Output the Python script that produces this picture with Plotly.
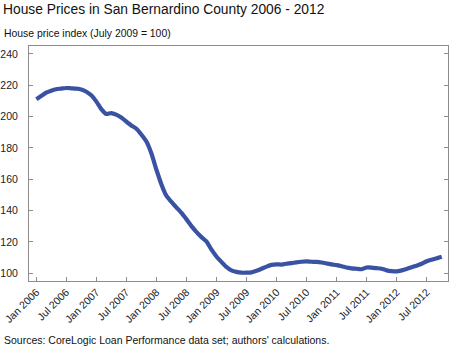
import plotly.graph_objects as go
import pandas as pd

months = pd.date_range("2006-01-01", periods=82, freq="MS")
hpi = [211.0, 213.2, 215.2, 216.5, 217.4, 217.8, 218.2, 218.0, 217.8, 217.3,
       215.8, 213.5, 209.5, 204.5, 201.6, 202.2, 201.2, 199.3, 196.8, 194.3,
       192.2, 188.5, 184.0, 176.5, 166.0, 156.5, 149.5, 145.5, 142.0, 138.5,
       134.5, 130.0, 126.2, 123.0, 120.2, 115.0, 110.5, 107.0, 104.0, 101.8,
       100.8, 100.3, 100.3, 100.5, 101.5, 102.8, 104.2, 105.3, 105.6, 105.5,
       106.0, 106.4, 106.9, 107.3, 107.5, 107.3, 107.2, 106.8, 106.2, 105.6,
       105.1, 104.4, 103.6, 103.1, 102.8, 102.5, 103.6, 103.6, 103.2, 102.8,
       101.8, 101.3, 101.1, 101.8, 102.7, 103.8, 104.8, 106.0, 107.6, 108.6,
       109.5, 110.5]
y_ticks = [100, 120, 140, 160, 180, 200, 220, 240]

title = "House Prices in San Bernardino County 2006 - 2012"
subtitle = "House price index (July 2009 = 100)"
source = "Sources: CoreLogic Loan Performance data set; authors' calculations."

FONT = "Liberation Sans, Arial, sans-serif"
AXIS = "#8c8c8c"

fig = go.Figure()
fig.add_trace(go.Scatter(x=months, y=hpi, mode="lines",
                         line=dict(color="#3a52a3", width=4.2, shape="spline", smoothing=0.5),
                         hoverinfo="skip"))

L, R, T, B = 29.3, 2, 46, 75.3
W, H = 450, 356
pw, ph = W - L - R, H - T - B

def px(x):
    return (x - L) / pw

def py(y):
    return (H - B - y) / ph

fig.update_layout(
    width=W, height=H,
    margin=dict(l=L, r=R, t=T, b=B, pad=0, autoexpand=False),
    paper_bgcolor="white", plot_bgcolor="white",
    showlegend=False,
    hovermode=False,
    font=dict(family=FONT, color="#222222", size=11),
    xaxis=dict(
        type="date", automargin=False,
        range=["2005-11-17", "2012-11-08"],
        tick0="2006-01-01", dtick="M6", tickformat="%b %Y",
        tickangle=-45, ticks="inside", ticklen=4, tickcolor=AXIS,
        showline=True, linecolor=AXIS, linewidth=1, mirror=True,
        showgrid=False, zeroline=False,
        tickfont=dict(size=10.5, color="#222222"),
    ),
    yaxis=dict(
        range=[95, 245], tickvals=y_ticks, automargin=False,
        ticks="inside", ticklen=4, tickcolor=AXIS,
        showline=True, linecolor=AXIS, linewidth=1, mirror="ticks",
        showgrid=False, zeroline=False,
        ticklabelstandoff=8,
        tickfont=dict(size=10.5, color="#222222"),
    ),
    annotations=[
        dict(text=title, x=px(1), y=py(0), xref="paper", yref="paper",
             xanchor="left", yanchor="top", showarrow=False,
             font=dict(size=13.8, color="#111111", family=FONT)),
        dict(text=subtitle, x=px(2), y=py(26), xref="paper", yref="paper",
             xanchor="left", yanchor="top", showarrow=False,
             font=dict(size=10.4, color="#111111", family=FONT)),
        dict(text=source, x=px(2), y=py(332), xref="paper", yref="paper",
             xanchor="left", yanchor="top", showarrow=False,
             font=dict(size=10.5, color="#111111", family=FONT)),
    ],
)

fig.write_html("out.html",
               config={"displayModeBar": False, "staticPlot": True},
               post_script="document.body.style.margin='0';document.body.style.overflow='hidden';")
